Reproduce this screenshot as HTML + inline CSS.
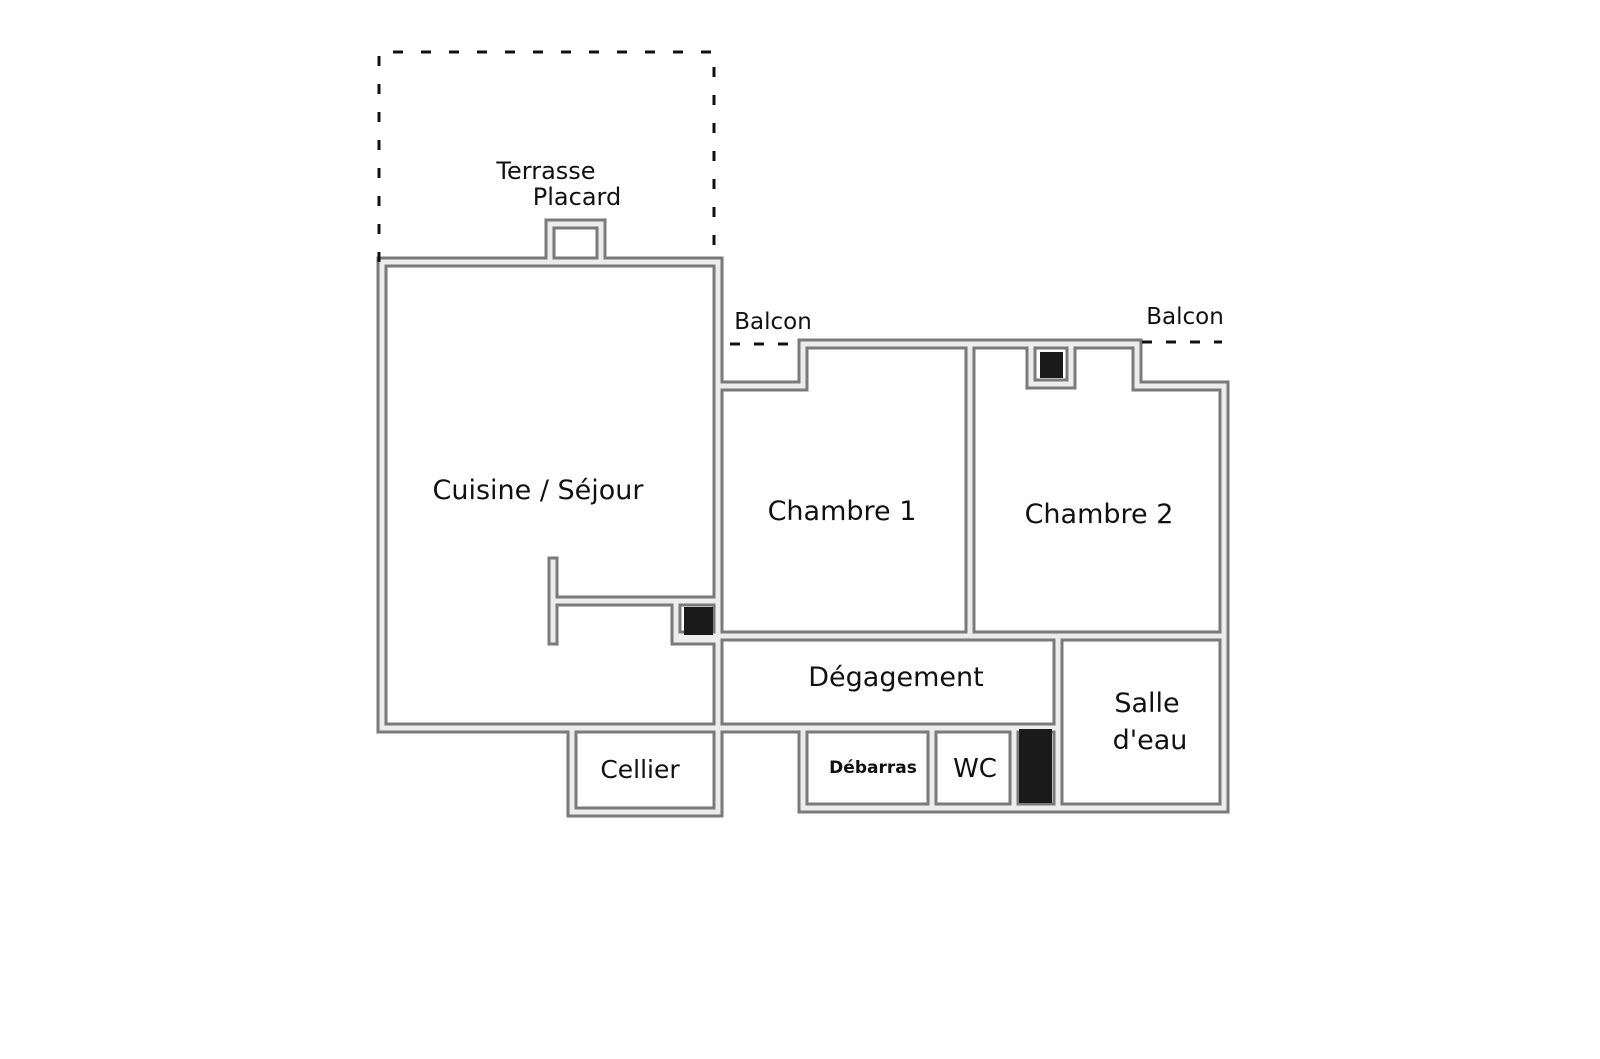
<!DOCTYPE html>
<html><head><meta charset="utf-8"><style>
html,body{margin:0;padding:0;background:#fff;}
svg{display:block}
text{font-family:"DejaVu Sans","Liberation Sans",sans-serif;fill:#111;}
</style></head><body>
<svg width="1600" height="1059" viewBox="0 0 1600 1059" xmlns="http://www.w3.org/2000/svg">
<defs>
<g id="walls" fill="none" stroke-linejoin="miter" stroke-linecap="square">
  <path d="M382 262 H718 V812"/>
  <path d="M382 262 V728 H1056"/>
  <path d="M550 262 V224 H601 V262"/>
  <path d="M718 386 H803 V344 H1137 V386 H1224 V808"/>
  <path d="M970 344 V636"/>
  <path d="M1031 344 V384 H1071 V344"/>
  <path d="M676 636 H1224"/>
  <path d="M676 603 V640 H718"/>
  <path d="M553 562 V640"/>
  <path d="M553 601 H718"/>
  <path d="M572 728 V812 H718"/>
  <path d="M803 728 V808 H1224"/>
  <path d="M1058 636 V808"/>
  <path d="M932 728 V808"/>
  <path d="M1014 728 V808"/>
</g>
</defs>
<use href="#walls" stroke="#7a7a7a" stroke-width="11"/>
<use href="#walls" stroke="#ececec" stroke-width="5"/>
<rect x="684" y="607" width="29" height="28" fill="#1a1a1a"/>
<rect x="1040" y="352" width="23" height="26" fill="#1a1a1a"/>
<rect x="1019" y="729" width="33" height="74" fill="#1a1a1a"/>
<path d="M379 262 V52 H714 V262" fill="none" stroke="#111" stroke-width="3" stroke-dasharray="10 18"/>
<path d="M730 344 H800" stroke="#111" stroke-width="3" stroke-dasharray="10 14"/>
<path d="M1142 342 H1222" stroke="#111" stroke-width="3" stroke-dasharray="10 14"/>
<text x="546" y="179" font-size="24" text-anchor="middle">Terrasse</text>
<text x="577" y="205" font-size="24" text-anchor="middle">Placard</text>
<text x="773" y="329" font-size="23" text-anchor="middle">Balcon</text>
<text x="1185" y="324" font-size="23" text-anchor="middle">Balcon</text>
<text x="538" y="499" font-size="27" text-anchor="middle">Cuisine / Séjour</text>
<text x="842" y="520" font-size="27" text-anchor="middle">Chambre 1</text>
<text x="1099" y="523" font-size="27" text-anchor="middle">Chambre 2</text>
<text x="896" y="686" font-size="27" text-anchor="middle">Dégagement</text>
<text x="1147" y="712" font-size="27" text-anchor="middle">Salle</text>
<text x="1150" y="749" font-size="27" text-anchor="middle">d'eau</text>
<text x="640" y="778" font-size="25" text-anchor="middle">Cellier</text>
<text x="873" y="773" font-size="17" font-weight="bold" text-anchor="middle">Débarras</text>
<text x="975" y="777" font-size="26" text-anchor="middle">WC</text>
</svg>
</body></html>
